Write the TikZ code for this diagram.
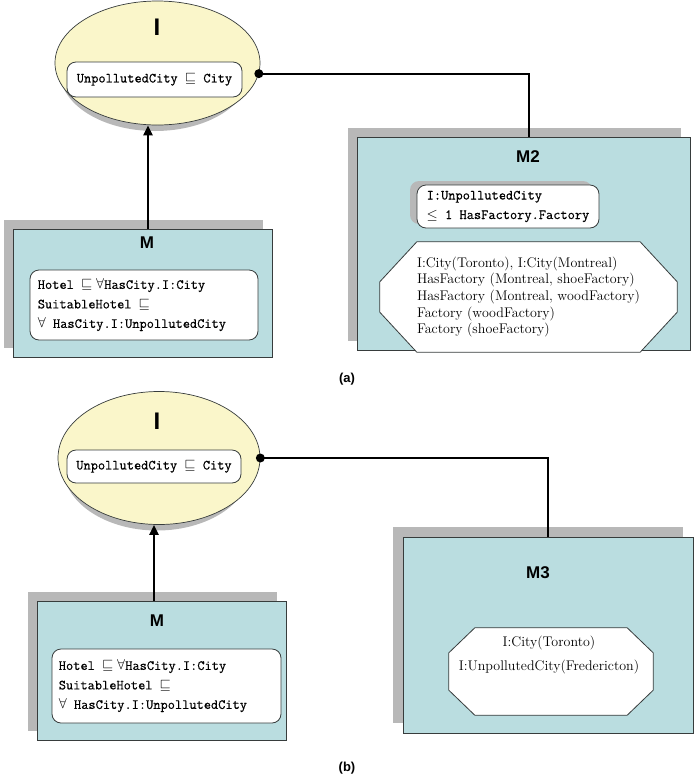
\documentclass[tikz,border=0pt]{standalone}
\usepackage{fontspec}
\newfontfamily\headfont{Liberation Sans}
\newfontfamily\axiomfont{Latin Modern Mono}[FakeBold=0.45]
\usetikzlibrary{shapes.geometric,calc,arrows.meta,backgrounds}
\definecolor{ontofill}{RGB}{250,246,202}
\definecolor{modfill}{RGB}{186,221,224}
\definecolor{dropgray}{RGB}{184,184,184}
\definecolor{rim}{RGB}{55,60,60}
% octagonal (chamfered) outline around a frame node: #1 node, #2 horizontal cut, #3 vertical cut
\newcommand{\chamferpath}[3]{%
  \filldraw[chamfer] ($(#1.north west)+(#2,0)$) -- ($(#1.north east)+(-#2,0)$)
    -- ($(#1.north east)+(0,#3)$) -- ($(#1.south east)+(0,-#3)$)
    -- ($(#1.south east)+(-#2,0)$) -- ($(#1.south west)+(#2,0)$)
    -- ($(#1.south west)+(0,-#3)$) -- ($(#1.north west)+(0,#3)$) -- cycle;}
\begin{document}
\begin{tikzpicture}[x=1pt,y=-1pt,
  onto/.style={ellipse,fill=ontofill,draw=rim,line width=0.7pt,inner sep=0pt},
  ontoshade/.style={ellipse,fill=dropgray,inner sep=0pt},
  module/.style={rectangle,fill=modfill,draw=rim,line width=0.9pt,inner sep=0pt},
  axiombox/.style={rectangle,rounded corners=9pt,fill=white,draw=rim,line width=0.8pt,inner sep=0pt},
  boxshade/.style={rectangle,rounded corners=9pt,fill=dropgray,inner sep=0pt},
  chamfer/.style={fill=white,draw=rim,line width=0.8pt},
  frame/.style={rectangle,inner sep=0pt},
  title/.style={font=\headfont\bfseries\fontsize{17}{20}\selectfont},
  bigtitle/.style={font=\headfont\bfseries\fontsize{24}{28}\selectfont},
  caption/.style={font=\headfont\bfseries\fontsize{13}{15}\selectfont},
  ttaxiom/.style={font=\axiomfont\fontsize{14}{19.5}\selectfont,align=left,inner sep=0pt},
  rmaxiom/.style={font=\fontsize{14}{16.7}\selectfont,align=left,inner sep=0pt},
  link/.style={line width=2.2pt},
  import/.style={line width=2.2pt,-{Triangle[length=10pt,width=9pt]}},
  dot/.style={circle,fill=black,inner sep=0pt,minimum size=9pt}]
\useasboundingbox (0,0) rectangle (695,777);

% ---------------- (a) ----------------
\node[onto,minimum width=205,minimum height=124] (Ia) at (157.5,63) {};
\node[bigtitle] (IaTitle) at (157,27) {I};
\node[axiombox,minimum width=175,minimum height=35,ttaxiom] (IaAx) at (154.5,79.5)
  {UnpollutedCity $\sqsubseteq$ City};

\node[module,minimum width=259,minimum height=128] (Ma) at (142.5,293) {};
\node[title] (MaTitle) at (147,243) {M};
\node[axiombox,minimum width=228,minimum height=70] (MaAx) at (144,305) {};
\node[ttaxiom,anchor=west] (MaTxt) at ($(MaAx.west)+(8,0)$)
  {Hotel $\sqsubseteq\forall$HasCity.I:City\\
   SuitableHotel $\sqsubseteq$\\
   $\forall$ HasCity.I:UnpollutedCity};

\node[module,minimum width=333,minimum height=213] (M2) at (523.5,243.5) {};
\node[title] (M2Title) at (528,157) {M2};
\node[boxshade,minimum width=182,minimum height=43] (M2AxShade) at (501,202.5) {};
\node[axiombox,minimum width=182,minimum height=43] (M2Ax) at (508,206.5) {};
\node[ttaxiom] (M2AxTxt) at (M2Ax.center)
  {I:UnpollutedCity\\$\leq$ 1 HasFactory.Factory};
\node[frame,minimum width=297,minimum height=110] (M2Box) at (528.5,297) {};
\chamferpath{M2Box}{37}{40}
\node[rmaxiom] (M2BoxTxt) at (M2Box.center)
  {I:City(Toronto), I:City(Montreal)\\
   HasFactory (Montreal, shoeFactory)\\
   HasFactory (Montreal, woodFactory)\\
   Factory (woodFactory)\\
   Factory (shoeFactory)};

\coordinate (M2Top) at ($(M2.north)+(5.5,0)$);
\draw[link] (Ia.-6) -| (M2Top);
\node[dot] (IaDot) at (Ia.-6) {};
\coordinate (MaTop) at ($(Ma.north)+(5.5,0)$);
\draw[import] (MaTop) -- (MaTop |- Ia.south);

\node[caption] (capA) at (347,379) {(a)};

% ---------------- (b) ----------------
\node[onto,minimum width=202,minimum height=133] (Ib) at (159,458) {};
\node[bigtitle] (IbTitle) at (157,421) {I};
\node[axiombox,minimum width=174,minimum height=33,ttaxiom] (IbAx) at (154,466.5)
  {UnpollutedCity $\sqsubseteq$ City};

\node[module,minimum width=249,minimum height=139] (Mb) at (161.5,670.5) {};
\node[title] (MbTitle) at (157,621) {M};
\node[axiombox,minimum width=229,minimum height=74] (MbAx) at (166.5,686) {};
\node[ttaxiom,anchor=west] (MbTxt) at ($(MbAx.west)+(7,0)$)
  {Hotel $\sqsubseteq\forall$HasCity.I:City\\
   SuitableHotel $\sqsubseteq$\\
   $\forall$ HasCity.I:UnpollutedCity};

\node[module,minimum width=290,minimum height=196] (M3) at (548,635) {};
\node[title] (M3Title) at (538,573) {M3};
\node[frame,minimum width=204,minimum height=87] (M3Box) at (551,671.5) {};
\chamferpath{M3Box}{26}{25}
\node[rmaxiom,align=center,font=\fontsize{14}{24}\selectfont] (M3BoxTxt) at (549,655)
  {I:City(Toronto)\\I:UnpollutedCity(Fredericton)};

\draw[link] (Ib.east) -| (M3.north);
\node[dot] (IbDot) at (Ib.east) {};
\coordinate (MbTop) at ($(Mb.north)+(-7.5,0)$);
\draw[import] (MbTop) -- (MbTop |- Ib.south);

\node[caption] (capB) at (347,768) {(b)};

% ---------------- drop shadows ----------------
\begin{scope}[on background layer]
  \node[ontoshade,minimum width=190,minimum height=118] (IaShade) at (155,72) {};
  \node[ontoshade,minimum width=188,minimum height=127] (IbShade) at (157,467) {};
  \fill[dropgray] ($(Ma.north west)+(-9,-9)$) rectangle ($(Ma.south east)+(-9,-9)$);
  \fill[dropgray] ($(M2.north west)+(-9,-9)$) rectangle ($(M2.south east)+(-9,-9)$);
  \fill[dropgray] ($(Mb.north west)+(-9,-9)$) rectangle ($(Mb.south east)+(-9,-9)$);
  \fill[dropgray] ($(M3.north west)+(-10,-10)$) rectangle ($(M3.south east)+(-10,-10)$);
\end{scope}
\end{tikzpicture}
\end{document}
